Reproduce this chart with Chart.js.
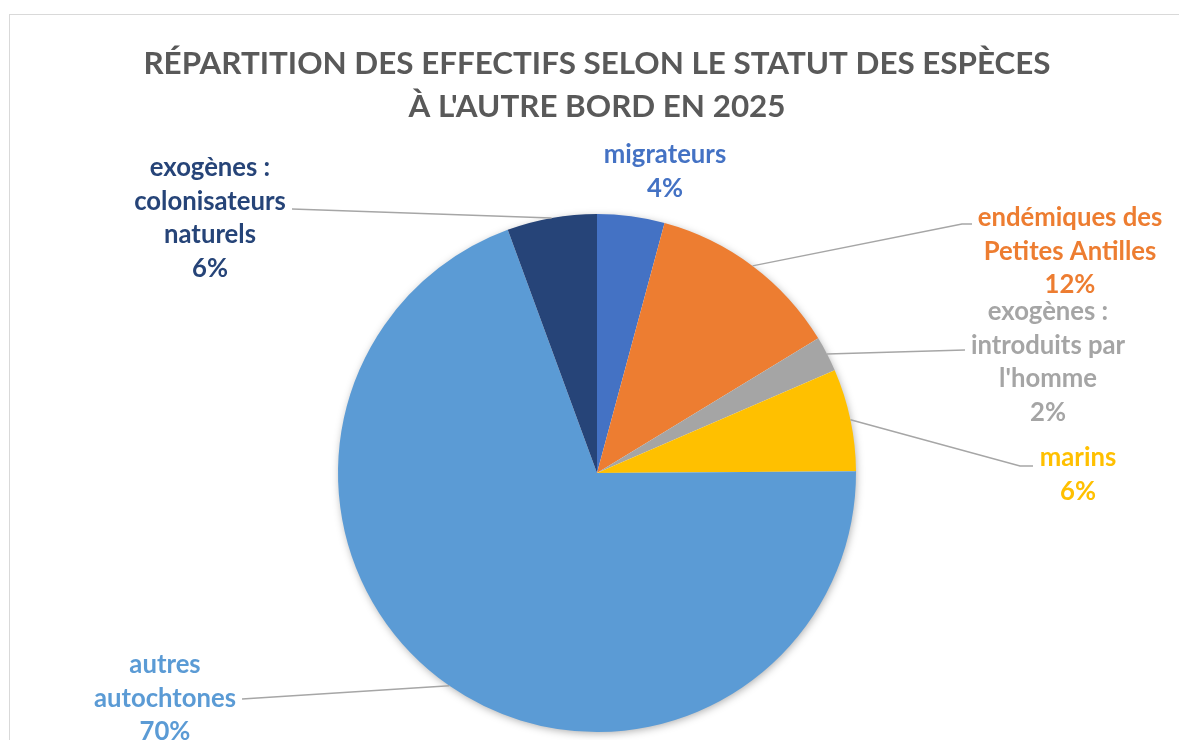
<!DOCTYPE html>
<html>
<head>
<meta charset="utf-8">
<script src="https://cdn.jsdelivr.net/npm/chart.js@4.4.1/dist/chart.umd.min.js"></script>
<style>
  html, body { margin: 0; padding: 0; background: #fff; overflow: hidden; }
  #frame { position: absolute; left: 9px; top: 14px; width: 1200px; height: 760px; border: 1px solid #d9d9d9; box-sizing: border-box; }
  #wrap { position: absolute; left: 0; top: 0; width: 1179px; height: 740px; }
</style>
</head>
<body>
<div id="frame"></div>
<div id="wrap"><canvas id="pieChart" width="1179" height="740"></canvas></div>
<script>
// Titre et données
const titleLines = ["RÉPARTITION DES EFFECTIFS SELON LE STATUT DES ESPÈCES", "À L'AUTRE BORD EN 2025"];
const categories = [
  ["migrateurs"],
  ["endémiques des", "Petites Antilles"],
  ["exogènes :", "introduits par", "l'homme"],
  ["marins"],
  ["autres", "autochtones"],
  ["exogènes :", "colonisateurs", "naturels"]
];
const values = [4.2, 12.1, 2.2, 6.4, 69.5, 5.6];
const colors = ["#4472C4", "#ED7D31", "#A5A5A5", "#FFC000", "#5B9BD5", "#264478"];

// Placement des étiquettes (centre du texte, 1re ligne) et points du trait de rappel
const labelPlaces = [
  { x: 665, y: 155, line: null },
  { x: 1070, y: 218, line: [[972, 224], [962, 224]] },
  { x: 1048, y: 312, line: [[965, 350]] },
  { x: 1078, y: 458, line: [[1033, 466], [1020, 466]] },
  { x: 165, y: 665, line: [[242, 699]] },
  { x: 210, y: 168, line: [[292, 209]] }
];

const FONT = "Lato, 'Open Sans', sans-serif";

const pieLabels = {
  id: 'pieLabels',
  beforeDatasetsDraw(chart) {
    // ombre légère sous le camembert
    const arc = chart.getDatasetMeta(0).data[0];
    const { x, y, outerRadius } = arc.getProps(['x', 'y', 'outerRadius'], true);
    const ctx = chart.ctx;
    ctx.save();
    ctx.shadowColor = 'rgba(0,0,0,0.35)';
    ctx.shadowBlur = 9;
    ctx.shadowOffsetX = 1;
    ctx.shadowOffsetY = 2;
    ctx.fillStyle = '#fff';
    ctx.beginPath();
    ctx.arc(x, y, outerRadius - 1, 0, Math.PI * 2);
    ctx.fill();
    ctx.restore();
  },
  afterDatasetsDraw(chart) {
    const ctx = chart.ctx;
    const total = values.reduce((a, b) => a + b, 0);

    // titre
    ctx.save();
    ctx.fillStyle = '#595959';
    ctx.font = "bold 31.4px " + FONT;
    ctx.textAlign = 'center';
    ctx.textBaseline = 'middle';
    ctx.fillText(titleLines[0], 597, 64);
    ctx.fillText(titleLines[1], 597, 107);
    ctx.restore();

    chart.getDatasetMeta(0).data.forEach((arc, i) => {
      const p = arc.getProps(['x', 'y', 'startAngle', 'endAngle', 'outerRadius'], true);
      const mid = (p.startAngle + p.endAngle) / 2;
      const ex = p.x + Math.cos(mid) * p.outerRadius;
      const ey = p.y + Math.sin(mid) * p.outerRadius;
      const place = labelPlaces[i];

      if (place.line) {
        ctx.save();
        ctx.strokeStyle = '#a6a6a6';
        ctx.lineWidth = 1.5;
        ctx.beginPath();
        ctx.moveTo(place.line[0][0], place.line[0][1]);
        place.line.slice(1).forEach(pt => ctx.lineTo(pt[0], pt[1]));
        ctx.lineTo(ex, ey);
        ctx.stroke();
        ctx.restore();
      }

      const lines = categories[i].concat([Math.round(values[i] / total * 100) + '%']);
      ctx.save();
      ctx.fillStyle = colors[i];
      ctx.font = "bold 25.7px " + FONT;
      ctx.textAlign = 'center';
      ctx.textBaseline = 'middle';
      lines.forEach((t, k) => ctx.fillText(t, place.x, place.y + k * 33.5));
      ctx.restore();
    });
  }
};

const ctx = document.getElementById('pieChart').getContext('2d');

new Chart(ctx, {
  type: 'pie',
  data: {
    labels: categories.map(c => c.join(' ')),
    datasets: [{
      data: values,
      backgroundColor: colors,
      borderWidth: 0
    }]
  },
  options: {
    responsive: false,
    animation: false,
    devicePixelRatio: 1,
    layout: {
      padding: { top: 214, bottom: 8, left: 200, right: 185 }
    },
    plugins: {
      legend: { display: false },
      tooltip: { enabled: false }
    }
  },
  plugins: [pieLabels]
});
</script>
</body>
</html>
